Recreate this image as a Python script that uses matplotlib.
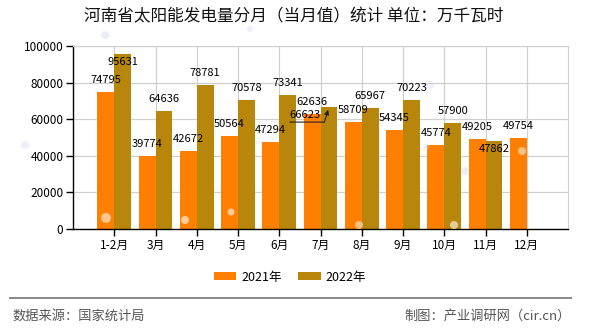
import matplotlib.pyplot as plt
import numpy as np
from matplotlib.lines import Line2D
from matplotlib.patches import Ellipse

plt.rcParams['font.family'] = ['Noto Sans CJK SC', 'DejaVu Sans']

months = ['1-2月', '3月', '4月', '5月', '6月', '7月', '8月', '9月', '10月', '11月', '12月']
gen_2021 = [74795, 39774, 42672, 50564, 47294, 62636, 58709, 54345, 45774, 49205, 49754]
gen_2022 = [95631, 64636, 78781, 70578, 73341, 66623, 65967, 70223, 57900, 47862]
y_ticks = [0, 20000, 40000, 60000, 80000, 100000]

c21 = '#FF8000'
c22 = '#B8860B'

fig = plt.figure(figsize=(5.9, 3.3), dpi=100)
W, H = 590, 330
ax = fig.add_axes([73 / W, 101 / H, 495 / W, 183 / H])

x = np.arange(len(months))
w = 0.41
ax.bar(x[:len(gen_2021)] - w / 2, gen_2021, w, color=c21, label='2021年', zorder=2)
ax.bar(x[:len(gen_2022)] + w / 2, gen_2022, w, color=c22, label='2022年', zorder=2)

ax.set_xlim(-1, len(months))
ax.set_ylim(0, 100000)
ax.set_xticks(x)
ax.set_xticklabels(months)
ax.set_yticks(y_ticks)
ax.set_yticklabels([str(v) for v in y_ticks])
ax.set_axisbelow(True)
ax.grid(color='#d0d0d0', lw=0.9)
for s in ['top', 'right']:
    ax.spines[s].set_color('#d0d0d0')
for s in ['left', 'bottom']:
    ax.spines[s].set_color('black')
    ax.spines[s].set_linewidth(1.0)
ax.tick_params(direction='out', length=5, width=1, labelsize=8.5, pad=2, colors='black')

# value labels: centred ~12px above each bar, a few moved to avoid overlaps
lbl = dict(ha='center', va='center', fontsize=8, textcoords='offset pixels', zorder=5)
for i, v in enumerate(gen_2021):
    ax.annotate(str(v), (i - w / 2, v), xytext=(0, 12), **lbl)
moved_2022 = {0: (0, -8), 5: (-24, -8), 9: (0, -8)}
for i, v in enumerate(gen_2022):
    ax.annotate(str(v), (i + w / 2, v), xytext=moved_2022.get(i, (0, 12)), **lbl)

# leader line from the shifted July label back to its bar
ax.annotate('', (5 + w / 2, gen_2022[5]), xytext=(-39, -15), textcoords='offset pixels',
            arrowprops=dict(arrowstyle='-|>', color='#222222', lw=0.8, mutation_scale=7,
                            shrinkA=0, shrinkB=2,
                            connectionstyle='angle,angleA=0,angleB=73,rad=0'),
            zorder=6)

# soft light spots scattered over the plot
spots = [(106, 218, 'white', 0.55, 5), (185, 220, 'white', 0.6, 4), (231, 212, 'white', 0.6, 3.5),
         (359, 225, 'white', 0.5, 4), (454, 225, 'white', 0.6, 4), (522, 151, 'white', 0.5, 4),
         (105, 35, '#c8c8f0', 0.35, 4), (250, 29, '#c8c8f0', 0.3, 3), (25, 145, '#c8c8f0', 0.3, 4),
         (430, 85, '#d0d0f0', 0.3, 4), (465, 171, '#d0d0f0', 0.35, 4), (426, 147, '#d0d0f0', 0.3, 3)]
for px, py, col, a, r in spots:
    fig.add_artist(Ellipse((px / W, 1 - py / H), 2 * r / W, 2 * r / H, color=col, alpha=a,
                           lw=0, transform=fig.transFigure))

fig.text(0.498, 1 - 17 / H, '河南省太阳能发电量分月（当月值）统计 单位：万千瓦时',
         ha='center', va='center', fontsize=12, color='#111111')

fig.legend(loc='center', bbox_to_anchor=(290 / W, 1 - 277 / H), ncol=2, frameon=False,
           fontsize=9, handlelength=1.8, handleheight=0.65, handletextpad=0.4,
           columnspacing=1.3)

fig.add_artist(Line2D([10 / W, 571 / W], [1 - 298 / H] * 2, color='#808080', lw=1.3,
                      transform=fig.transFigure))
fig.text(12 / W, 1 - 316 / H, '数据来源：国家统计局', ha='left', va='center',
         fontsize=9.5, color='#555555')
fig.text(571 / W, 1 - 316 / H, '制图：产业调研网（cir.cn）', ha='right', va='center',
         fontsize=9.5, color='#555555')

fig.savefig('out.png', dpi=100)
